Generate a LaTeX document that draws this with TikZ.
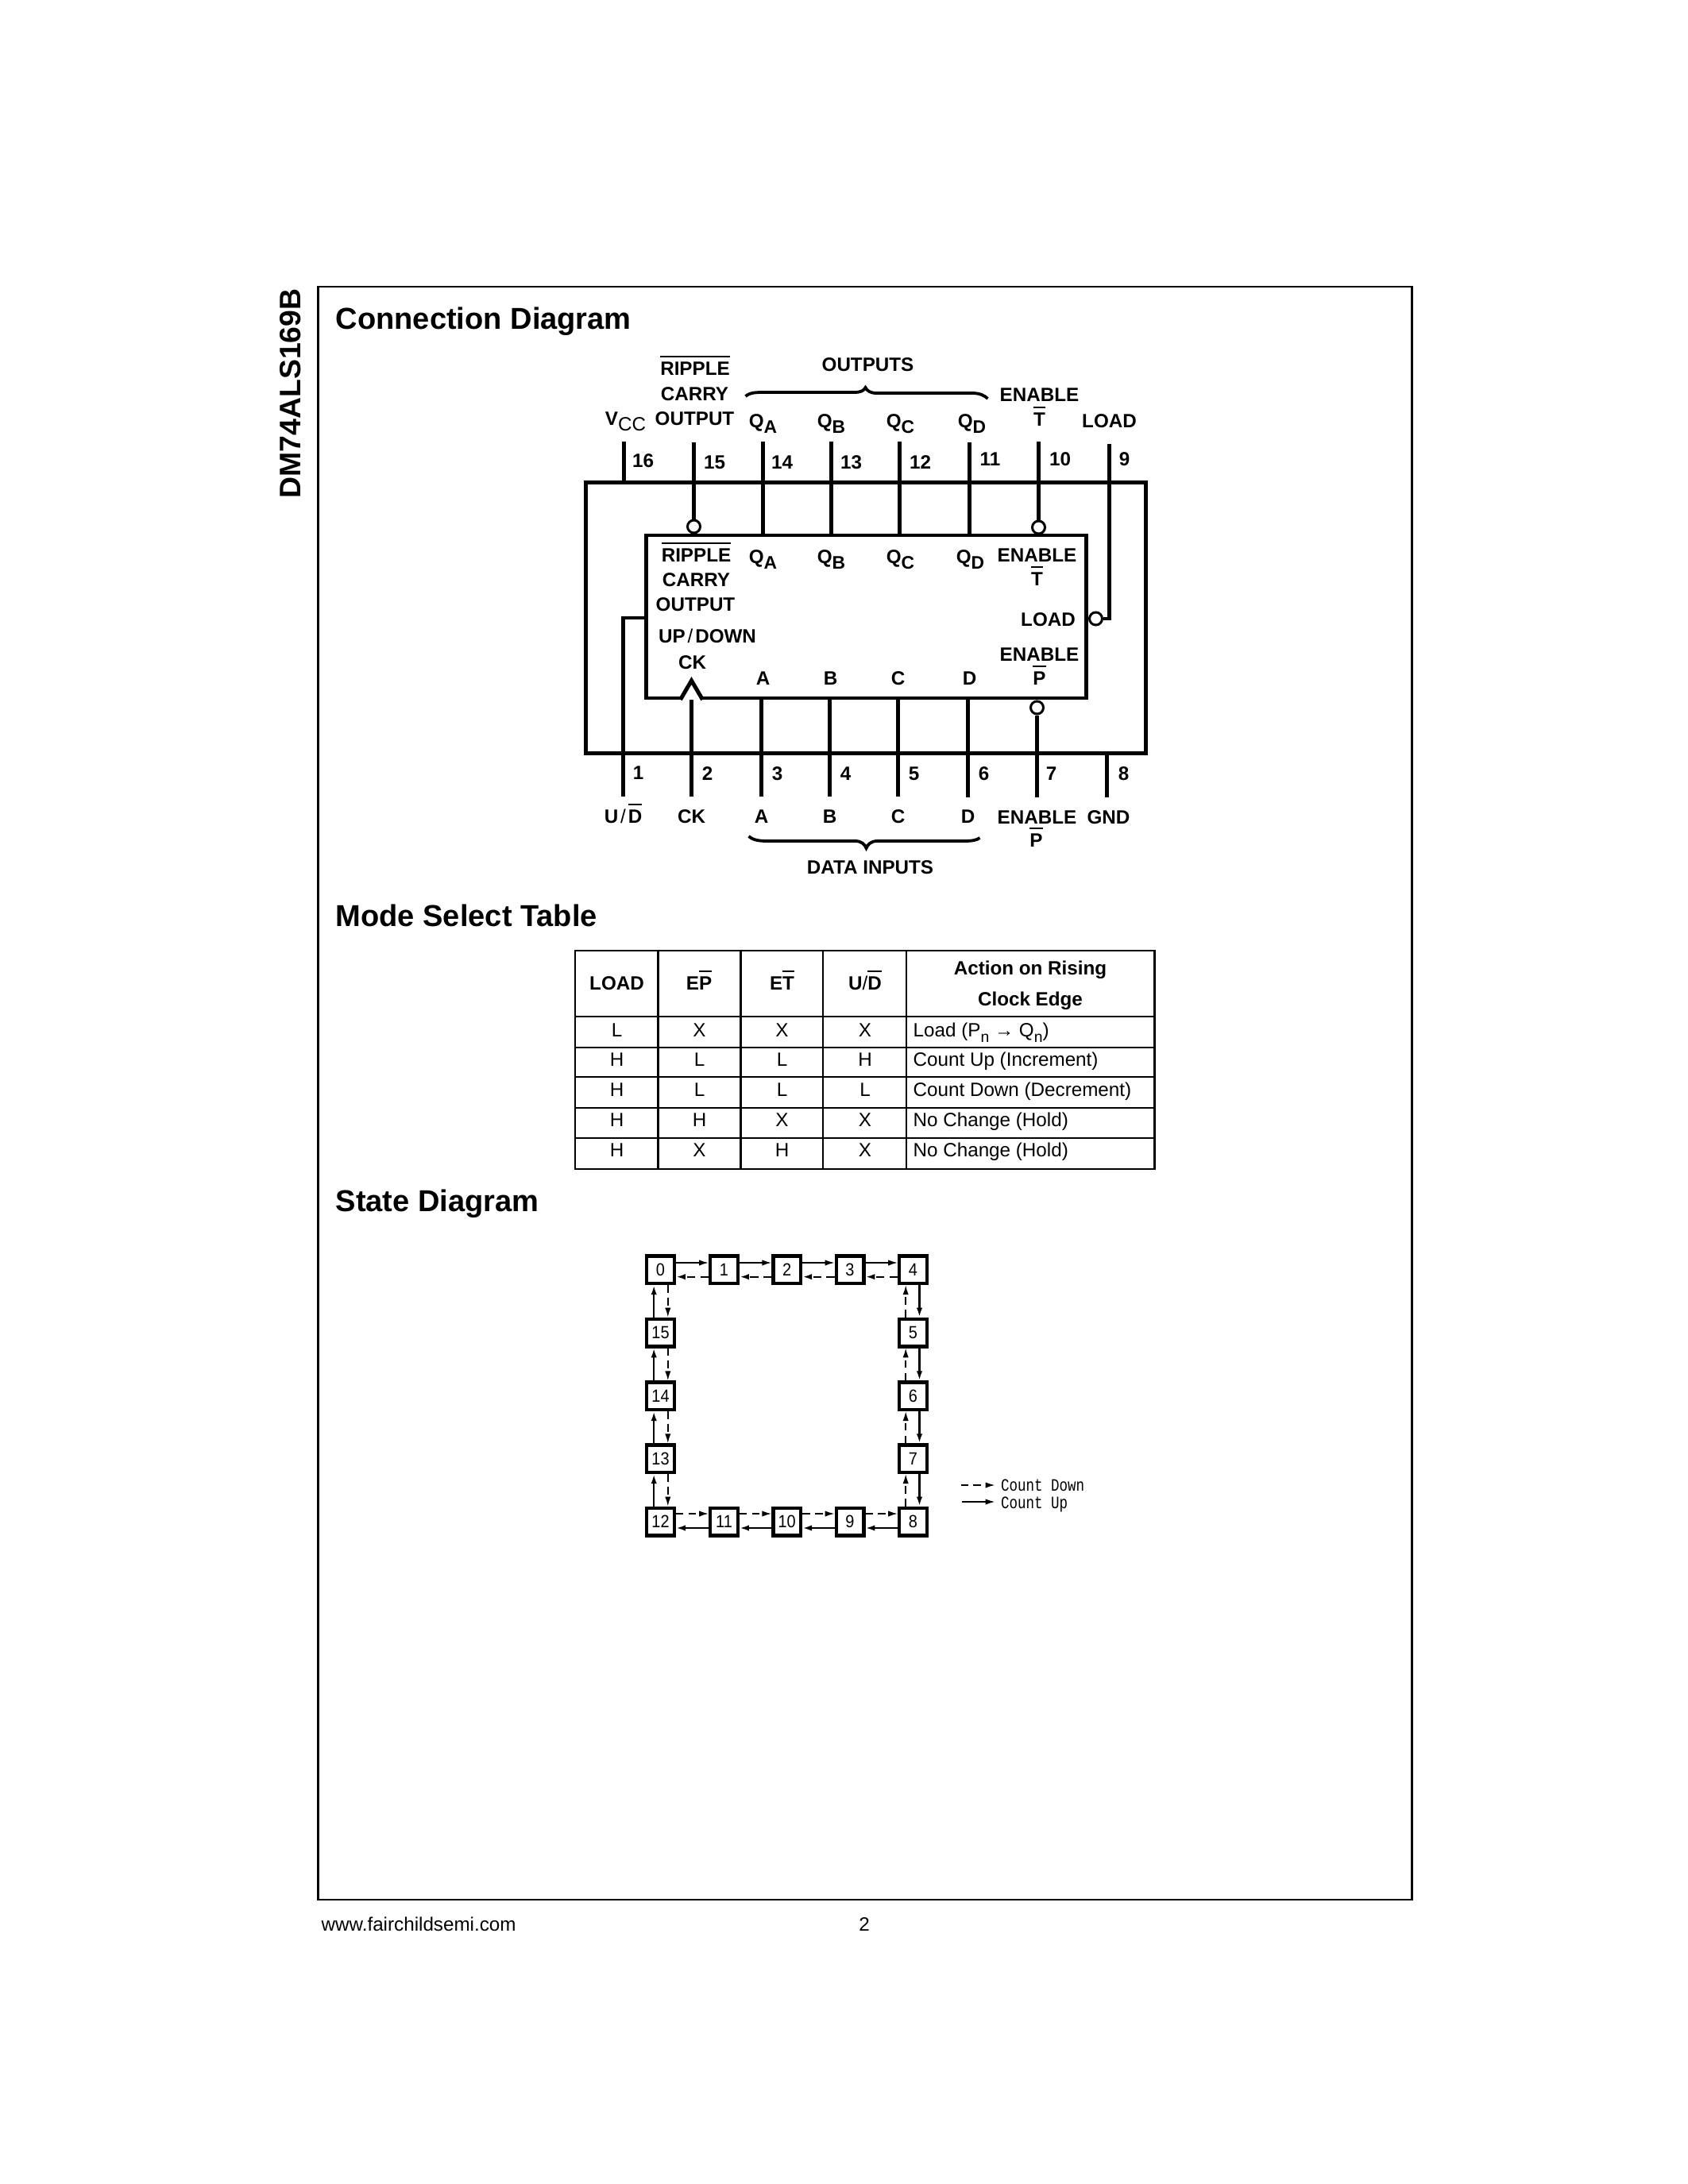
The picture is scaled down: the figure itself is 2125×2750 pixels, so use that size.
\documentclass[tikz,border=0pt]{standalone}
\usepackage{fontspec}
\setmainfont{Liberation Sans}
\setmonofont{Liberation Mono}
\usetikzlibrary{calc,arrows.meta}
\newlength\pxu
\setlength\pxu{0.288bp}
\newcommand\ovr[1]{\leavevmode\vbox{\hrule height 0.7pt\kern 1.6pt\hbox{#1}}}
\newcommand\Qsb[1]{Q\raisebox{-0.28em}{\fontsize{6.6}{7}\selectfont #1}}
\tikzset{
  frame/.style={draw,line width=2.6*\pxu},
  lab/.style={inner sep=0pt,font=\fontsize{7}{8}\selectfont\bfseries,text height=17.3*\pxu,text depth=0pt},
  cell/.style={inner sep=0pt,font=\fontsize{7}{8}\selectfont,text height=17.3*\pxu,text depth=0pt},
  head/.style={inner sep=0pt,anchor=base west,font=\fontsize{11}{12}\selectfont\bfseries},
  foot/.style={inner sep=0pt,anchor=base,font=\fontsize{7}{8}\selectfont},
  wire/.style={line width=4.3*\pxu},
  box/.style={draw,line width=4.3*\pxu,rectangle,inner sep=0pt},
  bubble/.style={draw,circle,line width=3*\pxu,minimum size=16*\pxu,inner sep=0pt,fill=white},
  tline/.style={line width=2.9*\pxu},
  stbox/.style={draw,rectangle,line width=4.4*\pxu,minimum size=34.6*\pxu,inner sep=0pt,font=\fontsize{6.4}{7}\selectfont},
  arr/.style={-{Latex[length=3.4bp,width=2.1bp]}},
  upthin/.style={arr,line width=1.6*\pxu},
  upthick/.style={arr,line width=2.5*\pxu},
  dn/.style={arr,line width=1.6*\pxu,dash pattern=on 2.7bp off 1.9bp},
  dnh/.style={arr,line width=2.4*\pxu,dash pattern=on 2.9bp off 1.9bp},
  legtext/.style={inner sep=0pt,anchor=base west,font=\fontsize{5.06}{6}\selectfont\ttfamily},
}
\begin{document}
\begin{tikzpicture}[x=0.288bp,y=-0.288bp]
\useasboundingbox (0,0) rectangle (2125,2750);
% page frame and headings
\node[frame,rectangle,inner sep=0pt,minimum width=1377*\pxu,minimum height=2031*\pxu] (page) at (1089,1376.5) {};
\node[head,rotate=90,font=\fontsize{10.8}{12}\selectfont\bfseries] (title) at (378,628) {DM74ALS169B};
\node[head] (h1) at (422,415) {Connection Diagram};
\node[head] (h2) at (422,1166) {Mode Select Table};
\node[head] (h3) at (422,1525) {State Diagram};
\node[foot,anchor=base west] (web) at (404,2431) {www.fairchildsemi.com};
\node[foot] (pg) at (1088,2431) {2};
\begin{scope}[shift={(1.5,1)}]
% package and chip
\node[box,minimum width=705*\pxu,minimum height=341*\pxu] (pkg) at (1088.5,777) {};
\node[box,minimum width=554*\pxu,minimum height=205*\pxu] (chip) at (1089,775.5) {};
% bubbles
\node[bubble] (b15) at (872,662) {};
\node[bubble] (b10) at (1306,663) {};
\node[bubble] (b9) at (1378,778) {};
\node[bubble] (b7) at (1304,890) {};
% pin coordinates
\foreach \n/\x/\y in {16/784/555,15/872/556,14/959/555,13/1045/555,12/1131/555,11/1219/556,10/1306/555,9/1395/558,
  1/783/1002,2/869/1002,3/957/1002,4/1043/1002,5/1129/1002,6/1217/1003,7/1304/1003,8/1392/1003}
  {\coordinate (p\n) at (\x,\y);}
\coordinate (ud) at (783,777);
\coordinate (ldk) at (1395,778);
% pins
\draw[wire] (p16) -- (p16 |- pkg.north);
\draw[wire] (p15) -- (b15.north);
\foreach \n in {14,13,12,11} {\draw[wire] (p\n) -- (p\n |- chip.north);}
\draw[wire] (p10) -- (b10.north);
\draw[wire] (p9) -- (ldk) -- (b9.east);
\draw[wire] (p1) -- (ud) -- (ud -| chip.west);
\foreach \n in {2,3,4,5,6} {\draw[wire] (p\n) -- (p\n |- chip.south);}
\draw[wire] (p7) -- (b7.south);
\draw[wire] (p8) -- (p8 |- pkg.south);
% clock triangle
\draw[line width=5*\pxu,line join=miter,fill=white] (855,880) -- (869,856) -- (883,880);
% braces
\draw[line width=3.8*\pxu] (937,498) .. controls (943,493) and (950,493) .. (962,493) -- (1074,493) .. controls (1082,493) and (1086,491) .. (1088,487) .. controls (1090,491) and (1094,494) .. (1102,494) -- (1222,494) .. controls (1232,494) and (1238,497) .. (1242,501);
\draw[line width=3.8*\pxu] (941,1052) .. controls (947,1057) and (954,1058) .. (965,1058) -- (1075,1058) .. controls (1083,1058) and (1087,1062) .. (1089,1067) .. controls (1091,1062) and (1095,1058) .. (1103,1058) -- (1212,1058) .. controls (1222,1058) and (1228,1057) .. (1232,1054);
% pin numbers
\foreach \n/\x/\y in {16/808/579,15/898/581,14/983/581,13/1070/581,12/1157/581,11/1245/577,10/1333/577,9/1414/577,
  1/802/972,2/889/973,3/977/973,4/1063/973,5/1149/973,6/1237/973,7/1322/973,8/1413/973}
  {\node[lab] (n\n) at (\x,\y) {\n};}
% upper labels
\node[lab] (t1) at (873.5,463) {\ovr{RIPPLE}};
\node[lab] (t2) at (873,495) {CARRY};
\node[lab] (t3) at (873,526) {OUTPUT};
\node[lab] (t4) at (1091,458) {OUTPUTS};
\node[lab] (t5) at (1307,496) {ENABLE};
\node[lab] (t6) at (1307,527) {\ovr{T}};
\node[lab] (t7) at (786,526) {V\raisebox{-0.28em}{\mdseries CC}};
\node[lab] (t8) at (959,529) {\Qsb{A}};
\node[lab] (t9) at (1045,529) {\Qsb{B}};
\node[lab] (t10) at (1132,529) {\Qsb{C}};
\node[lab] (t11) at (1222,529) {\Qsb{D}};
\node[lab] (t12) at (1395,529) {LOAD};
% chip labels
\node[lab] (i1) at (875,698) {\ovr{RIPPLE}};
\node[lab] (i2) at (875,729) {CARRY};
\node[lab] (i3) at (874,760) {OUTPUT};
\node[lab] (i4) at (889,800) {UP\kern0.12em{\mdseries/}\kern0.12em DOWN};
\node[lab] (i5) at (870,833) {CK};
\node[lab] (i6) at (959,700) {\Qsb{A}};
\node[lab] (i7) at (1045,700) {\Qsb{B}};
\node[lab] (i8) at (1132,700) {\Qsb{C}};
\node[lab] (i9) at (1220,700) {\Qsb{D}};
\node[lab] (i10) at (1304,698) {ENABLE};
\node[lab] (i11) at (1304,728) {\ovr{T}};
\node[lab] (i12) at (1318,779) {LOAD};
\node[lab] (i13) at (1307,823) {ENABLE};
\node[lab] (i14) at (1307,853) {\ovr{P}};
\node[lab] (i15) at (959,853) {A};
\node[lab] (i16) at (1044,853) {B};
\node[lab] (i17) at (1129,853) {C};
\node[lab] (i18) at (1219,853) {D};
% lower labels
\node[lab] (d1) at (783,1027) {U\kern0.12em{\mdseries/}\kern0.12em\ovr{D}};
\node[lab] (d2) at (869,1027) {CK};
\node[lab] (d3) at (957,1027) {A};
\node[lab] (d4) at (1043,1027) {B};
\node[lab] (d5) at (1129,1027) {C};
\node[lab] (d6) at (1217,1027) {D};
\node[lab] (d7) at (1304,1028) {ENABLE};
\node[lab] (d8) at (1394,1028) {GND};
\node[lab] (d9) at (1303,1057) {\ovr{P}};
\node[lab] (d10) at (1094,1091) {DATA INPUTS};
\end{scope}
\begin{scope}[shift={(1,0)}]
% table
\draw[tline] (723,1197) rectangle (1452.5,1472);
\foreach \x in {827.5,931.5,1035,1140} {\draw[tline] (\x,1197) -- (\x,1472);}
\foreach \y in {1280,1319,1356,1395,1433} {\draw[tline] (723,\y) -- (1452.5,\y);}
\node[lab] (c1) at (775.5,1238) {LOAD};
\node[lab] (c2) at (879,1238) {E\ovr{P}};
\node[lab] (c3) at (983.5,1238) {E\ovr{T}};
\node[lab] (c4) at (1088,1238) {U{\mdseries/}\ovr{D}};
\node[lab] (c5) at (1296,1219) {Action on Rising};
\node[lab] (c6) at (1296,1258) {Clock Edge};
\foreach \r/\y/\a/\b/\c/\d in {1/1297/L/X/X/X,2/1334/H/L/L/H,3/1372/H/L/L/L,4/1410/H/H/X/X,5/1448/H/X/H/X}{
  \node[cell] (ra\r) at (775.5,\y) {\a};
  \node[cell] (rb\r) at (879.5,\y) {\b};
  \node[cell] (rc\r) at (983.5,\y) {\c};
  \node[cell] (rd\r) at (1088,\y) {\d};
}
\node[cell,anchor=west] (re1) at (1148,1297) {Load (P\raisebox{-0.3em}{\fontsize{5.6}{6}\selectfont n} → Q\raisebox{-0.3em}{\fontsize{5.6}{6}\selectfont n})};
\node[cell,anchor=west] (re2) at (1148,1334) {Count Up (Increment)};
\node[cell,anchor=west] (re3) at (1148,1372) {Count Down (Decrement)};
\node[cell,anchor=west] (re4) at (1148,1410) {No Change (Hold)};
\node[cell,anchor=west] (re5) at (1148,1448) {No Change (Hold)};
\end{scope}
\begin{scope}[shift={(1.5,0)}]
% state diagram
\foreach \n/\x/\y in {0/830/1598.8,1/910/1598.8,2/989.2/1598.8,3/1068.5/1598.8,4/1148/1598.8,
  5/1148/1678,6/1148/1757.7,7/1148/1836.7,8/1148/1916,
  9/1068.5/1916,10/989.2/1916,11/910/1916,12/830/1916,13/830/1836.7,14/830/1757.7,15/830/1678}
  {\node[stbox] (s\n) at (\x,\y) {\scalebox{0.9}[1]{\n}};}
\foreach \a/\b in {0/1,1/2,2/3,3/4}{
  \draw[upthin] ($(s\a.east)+(0,-8.8)$) -- ($(s\b.west)+(0,-8.8)$);
  \draw[dnh] ($(s\b.west)+(0,8.9)$) -- ($(s\a.east)+(0,8.9)$);
}
\foreach \a/\b in {4/5,5/6,6/7,7/8}{
  \draw[upthick] ($(s\a.south)+(8,0)$) -- ($(s\b.north)+(8,0)$);
  \draw[dn] ($(s\b.north)+(-9.3,0)$) -- ($(s\a.south)+(-9.3,0)$);
}
\foreach \a/\b in {8/9,9/10,10/11,11/12}{
  \draw[upthick] ($(s\a.west)+(0,8)$) -- ($(s\b.east)+(0,8)$);
  \draw[dn] ($(s\b.east)+(0,-10)$) -- ($(s\a.west)+(0,-10)$);
}
\foreach \a/\b in {12/13,13/14,14/15,15/0}{
  \draw[upthick] ($(s\a.north)+(-8.3,0)$) -- ($(s\b.south)+(-8.3,0)$);
  \draw[dn] ($(s\b.south)+(9.3,0)$) -- ($(s\a.north)+(9.3,0)$);
}
% legend
\coordinate (l1a) at (1208,1870);
\coordinate (l1b) at (1251,1870);
\coordinate (l2a) at (1209,1891);
\coordinate (l2b) at (1251,1891);
\draw[dn] (l1a) -- (l1b);
\draw[upthin] (l2a) -- (l2b);
\node[legtext] (l1) at (1258,1877.3) {\scalebox{1}[1.25]{Count Down}};
\node[legtext] (l2) at (1258,1899) {\scalebox{1}[1.25]{Count Up}};
\end{scope}
\end{tikzpicture}
\end{document}
